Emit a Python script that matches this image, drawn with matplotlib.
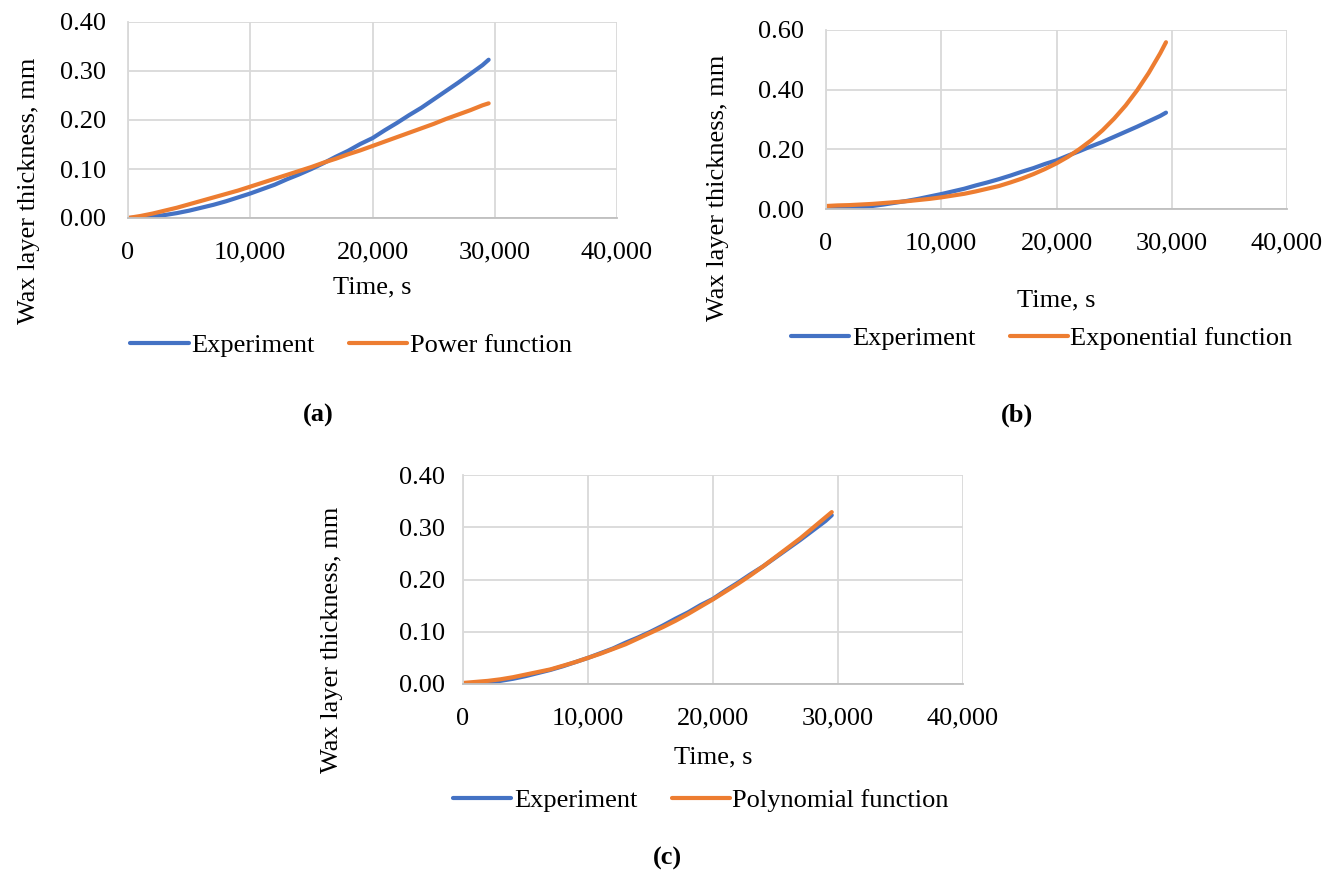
import matplotlib.pyplot as plt
from matplotlib.ticker import FuncFormatter, MultipleLocator

plt.rcParams['font.family'] = ['Liberation Serif', 'DejaVu Serif']

# time, s
time_s = [0, 1000, 2000, 3000, 4000, 5000, 6000, 7000, 8000, 9000, 10000,
          11000, 12000, 13000, 14000, 15000, 16000, 17000, 18000, 19000, 20000,
          21000, 22000, 23000, 24000, 25000, 26000, 27000, 28000, 29000, 29500]

# wax layer thickness, mm
experiment = [0.000, 0.001, 0.003, 0.006, 0.010, 0.015, 0.021, 0.027, 0.034, 0.042, 0.050,
              0.059, 0.068, 0.079, 0.089, 0.100, 0.112, 0.125, 0.137, 0.151, 0.163,
              0.179, 0.194, 0.210, 0.225, 0.242, 0.259, 0.276, 0.294, 0.312, 0.323]
power_fit = [0.000, 0.004, 0.009, 0.015, 0.021, 0.028, 0.035, 0.042, 0.049, 0.056, 0.064,
             0.072, 0.080, 0.088, 0.096, 0.104, 0.113, 0.121, 0.130, 0.138, 0.147,
             0.156, 0.165, 0.174, 0.183, 0.192, 0.202, 0.211, 0.220, 0.230, 0.234]
exp_fit = [0.010, 0.012, 0.013, 0.015, 0.017, 0.020, 0.023, 0.026, 0.030, 0.034, 0.039,
           0.045, 0.051, 0.059, 0.068, 0.077, 0.089, 0.102, 0.117, 0.134, 0.153,
           0.175, 0.201, 0.230, 0.264, 0.303, 0.347, 0.398, 0.456, 0.522, 0.559]
poly_fit = [0.002, 0.004, 0.006, 0.009, 0.013, 0.018, 0.023, 0.028, 0.035, 0.042, 0.050,
            0.058, 0.067, 0.076, 0.087, 0.098, 0.109, 0.121, 0.134, 0.148, 0.162,
            0.177, 0.192, 0.208, 0.225, 0.243, 0.261, 0.279, 0.299, 0.319, 0.329]

BLUE = '#4472C4'
ORANGE = '#ED7D31'
FS = 19

fig = plt.figure(figsize=(13.36, 8.77), dpi=100)


def make_panel(rect, fit, fit_name, ymax, ystep, xlab_y, ylab_x, ylab_y,
               leg_xy, tag, tag_xy, ypad=16):
    ax = fig.add_axes(rect)
    l1, = ax.plot(time_s, experiment, color=BLUE, lw=3.0, solid_capstyle='round')
    l2, = ax.plot(time_s, fit, color=ORANGE, lw=3.0, solid_capstyle='round')
    ax.set_xlim(0, 40000)
    ax.set_ylim(0, ymax)
    ax.xaxis.set_major_locator(MultipleLocator(10000))
    ax.yaxis.set_major_locator(MultipleLocator(ystep))
    ax.xaxis.set_major_formatter(FuncFormatter(lambda v, p: f'{v:,.0f}'))
    ax.yaxis.set_major_formatter(FuncFormatter(lambda v, p: f'{v:.2f}'))
    ax.grid(True, color='#d9d9d9', lw=1.3)
    ax.set_axisbelow(True)
    for s in ['top', 'right']:
        ax.spines[s].set_visible(False)
    ax.spines['left'].set_color('#d9d9d9')
    ax.spines['bottom'].set_color('#bfbfbf')
    ax.spines['left'].set_linewidth(1.3)
    ax.spines['bottom'].set_linewidth(1.3)
    ax.tick_params(length=0, labelsize=FS)
    ax.tick_params(axis='x', pad=17)
    ax.tick_params(axis='y', pad=ypad)
    ax.set_xlabel('Time, s', fontsize=FS)
    ax.xaxis.set_label_coords(0.5, xlab_y)
    ax.set_ylabel('Wax layer thickness, mm', fontsize=FS)
    ax.yaxis.set_label_coords(ylab_x, ylab_y)
    fig.legend([l1, l2], ['Experiment', fit_name], loc='center',
               bbox_to_anchor=(leg_xy[0] / 1336, 1 - leg_xy[1] / 877),
               ncol=2, frameon=False, fontsize=FS, handlelength=2.2,
               handletextpad=0.1, columnspacing=1.3)
    fig.text(tag_xy[0] / 1336, 1 - tag_xy[1] / 877, tag, fontsize=19,
             fontweight='bold', ha='center', va='center')
    return ax


make_panel([128 / 1336, 1 - 218 / 877, 489 / 1336, 196 / 877],
           power_fit, 'Power function', 0.4, 0.1,
           -0.30, -0.18, 0.14, (351, 345), '(a)', (318, 415))
make_panel([826 / 1336, 1 - 209 / 877, 461 / 1336, 179 / 877],
           exp_fit, 'Exponential function', 0.6, 0.2,
           -0.45, -0.21, 0.12, (1042, 338), '(b)', (1017, 415))
make_panel([463 / 1336, 1 - 684 / 877, 500 / 1336, 209 / 877],
           poly_fit, 'Polynomial function', 0.4, 0.1,
           -0.30, -0.24, 0.21, (701, 800), '(c)', (667, 858), ypad=13)

plt.savefig('out.png', dpi=100)
